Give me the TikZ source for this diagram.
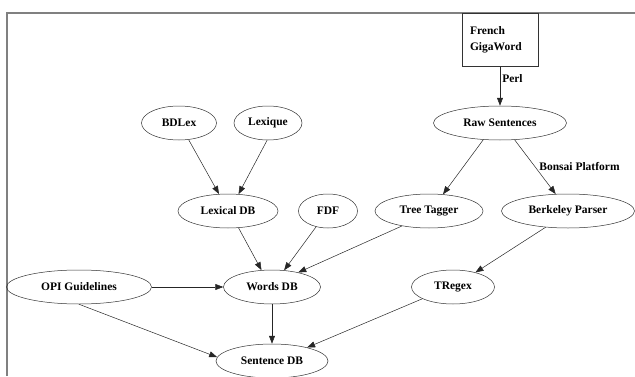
\documentclass[tikz,border=0pt]{standalone}
\usepackage{fontspec}
\setmainfont{Liberation Serif}
\usetikzlibrary{arrows.meta,positioning,shapes.geometric}

\begin{document}
\begin{tikzpicture}[
    x=1pt, y=1pt,
    on grid,
    ell/.style={
        draw=black!80,
        ellipse,
        line width=0.5pt,
        inner sep=2pt,
        minimum height=34pt,
        font=\bfseries\fontsize{11.5}{16}\selectfont
    },
    src/.style={
        draw=black!80,
        line width=0.5pt,
        align=left,
        inner xsep=8pt,
        text width=60pt,
        minimum height=53pt,
        font=\bfseries\fontsize{11.5}{16}\selectfont
    },
    lbl/.style={inner sep=2pt, font=\bfseries\fontsize{11.5}{16}\selectfont},
    arrow/.style={-{Triangle[length=8pt, width=6pt]}, line width=0.5pt, draw=black!85}
]
\useasboundingbox (0,0) rectangle (635,376);
\draw[black!50, line width=1.3pt] (7,0) -- (7,363) -- (635,363);

\node[ell, minimum width=133pt] (raw) at (500,253) {Raw Sentences};
\node[src, above=83pt of raw] (giga) {French\\GigaWord};

\node[ell, minimum width=108pt, below left=88pt and 71pt of raw] (treetagger) {Tree Tagger};
\node[ell, minimum width=133pt, below right=88pt and 68pt of raw] (berkeley) {Berkeley Parser};
\node[ell, minimum width=83pt, below left=76pt and 115pt of berkeley] (tregex) {TRegex};

\node[ell, minimum width=59pt, left=101pt of treetagger] (fdf) {FDF};
\node[ell, minimum width=100pt, left=100pt of fdf] (lexdb) {Lexical DB};
\node[ell, minimum width=75pt, above left=88pt and 49pt of lexdb] (bdlex) {BDLex};
\node[ell, minimum width=68pt, right=89pt of bdlex] (lexique) {Lexique};

\node[ell, minimum width=97pt, below right=76pt and 44pt of lexdb] (wordsdb) {Words DB};
\node[ell, minimum width=145pt, left=193pt of wordsdb] (opi) {OPI Guidelines};
\node[ell, minimum width=112pt, below=74pt of wordsdb] (sentdb) {Sentence DB};

\draw[arrow] (giga) -- node[lbl, right, pos=0.3] {Perl} (raw);
\draw[arrow] (raw.-135) -- (treetagger.50);
\draw[arrow] (raw.-49) -- node[lbl, right, pos=0.5, xshift=2pt] {Bonsai Platform} (berkeley.126);
\draw[arrow] (bdlex.-60) -- (lexdb.118);
\draw[arrow] (lexique.-93) -- (lexdb.58);
\draw[arrow] (lexdb.-58) -- (wordsdb.122);
\draw[arrow] (fdf.-127) -- (wordsdb.54);
\draw[arrow] (treetagger.-151) -- (wordsdb.29);
\draw[arrow] (berkeley.-144) -- (tregex.33);
\draw[arrow] (opi) -- (wordsdb);
\draw[arrow] (opi.-90) -- (sentdb.176);
\draw[arrow] (wordsdb) -- (sentdb);
\draw[arrow] (tregex.-159) -- (sentdb.21);

\end{tikzpicture}
\end{document}
